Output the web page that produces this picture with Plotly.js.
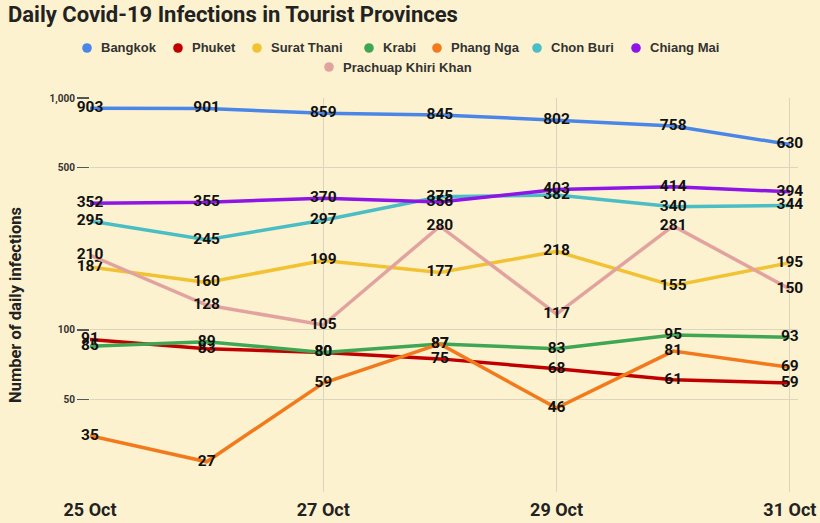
<!DOCTYPE html>
<html>
<head>
<meta charset="utf-8">
<script src="https://cdn.plot.ly/plotly-3.0.1.min.js"></script>
<style>html,body{margin:0;padding:0;background:#fdf2cf;}#chart{width:820px;height:523px;}</style>
</head>
<body>
<div id="chart"></div>
<script>
const dates = ["25 Oct", "26 Oct", "27 Oct", "28 Oct", "29 Oct", "30 Oct", "31 Oct"];
const tickDates = ["25 Oct", "27 Oct", "29 Oct", "31 Oct"];
const yTickVals = [50, 100, 500, 1000];
const yTickText = ["50", "100", "500", "1,000"];
const yTitle = "Number of daily infections";

const seriesNames = ["Bangkok", "Phuket", "Surat Thani", "Krabi", "Phang Nga", "Chon Buri", "Chiang Mai", "Prachuap Khiri Khan"];
const bangkok = [903, 901, 859, 845, 802, 758, 630];
const phuket = [91, 83, 80, 75, 68, 61, 59];
const suratThani = [187, 160, 199, 177, 218, 155, 195];
const krabi = [85, 89, 80, 87, 83, 95, 93];
const phangNga = [35, 27, 59, 87, 46, 81, 69];
const chonBuri = [295, 245, 297, 375, 382, 340, 344];
const chiangMai = [352, 355, 370, 356, 403, 414, 394];
const prachuap = [210, 128, 105, 280, 117, 281, 150];

const seriesValues = [bangkok, phuket, suratThani, krabi, phangNga, chonBuri, chiangMai, prachuap];
const colors = ["#4a86e8", "#c00000", "#f1c232", "#3fa654", "#f27a1c", "#4bbdc4", "#8e15e6", "#e2a3a0"];

// layout: margins and manual legend placement (pixels)
const W = 820, H = 523;
const M = {l: 90, r: 22, t: 98, b: 31};
const PW = W - M.l - M.r, PH = H - M.t - M.b;
const legendDotX = [87, 178, 257, 369, 437, 537, 636, 329];
const legendRowY = [48, 48, 48, 48, 48, 48, 48, 67];
const px2x = px => (px - M.l) / PW;
const py2y = py => (H - M.b - py) / PH;

const xIdx = dates.map((d, i) => i);
const traces = seriesValues.map((vals, k) => ({
  type: "scatter",
  mode: "lines+text",
  x: xIdx,
  y: vals,
  text: vals.map(String),
  textposition: "middle center",
  textfont: {family: "Roboto", size: 15.5, color: "#111", weight: 700},
  line: {color: colors[k], width: 3.5},
  name: seriesNames[k],
  cliponaxis: false,
  hoverinfo: "x+y+name"
}));

const shapes = [];
const annotations = [];
seriesNames.forEach((nm, k) => {
  const cx = legendDotX[k], cy = legendRowY[k], r = 4.8;
  shapes.push({
    type: "circle", xref: "paper", yref: "paper",
    x0: px2x(cx - r), x1: px2x(cx + r), y0: py2y(cy + r), y1: py2y(cy - r),
    fillcolor: colors[k], line: {width: 0}
  });
  annotations.push({
    xref: "paper", yref: "paper", x: px2x(cx + 12), y: py2y(cy),
    xanchor: "left", yanchor: "middle", showarrow: false,
    text: nm,
    font: {family: "Liberation Sans", size: 13, color: "#333", weight: 700}
  });
});
annotations.push({
  xref: "paper", yref: "paper", x: px2x(15), y: py2y(305),
  xanchor: "center", yanchor: "middle", showarrow: false,
  textangle: -90,
  text: yTitle,
  font: {family: "Roboto", size: 16.5, color: "#222", weight: 700}
});

const layout = {
  width: W,
  height: H,
  paper_bgcolor: "#fdf2cf",
  plot_bgcolor: "#fdf2cf",
  margin: M,
  showlegend: false,
  title: {
    text: "Daily Covid-19 Infections in Tourist Provinces",
    x: 8 / W, xanchor: "left", xref: "container",
    y: 1 - 14 / H, yanchor: "middle", yref: "container",
    font: {family: "Roboto", size: 22, color: "#222", weight: 700}
  },
  shapes: shapes,
  annotations: annotations,
  xaxis: {
    range: [0, 6.07],
    tickvals: [0, 2, 4, 6],
    ticktext: tickDates,
    showgrid: true,
    gridcolor: "#dcd5bd",
    zeroline: false,
    showline: false,
    ticks: "",
    ticklabelstandoff: 5,
    tickfont: {family: "Roboto", size: 18, color: "#222", weight: 700}
  },
  yaxis: {
    type: "log",
    range: [Math.log10(20), 3],
    tickvals: yTickVals,
    ticktext: yTickText,
    showgrid: true,
    gridcolor: "#dcd5bd",
    zeroline: false,
    showline: false,
    ticks: "outside",
    ticklen: 12,
    tickcolor: "#555",
    tickwidth: 1.2,
    automargin: false,
    tickfont: {family: "Roboto", size: 10, color: "#333", weight: 700}
  }
};

Plotly.newPlot("chart", traces, layout, {displayModeBar: false, staticPlot: true});
</script>
</body>
</html>
